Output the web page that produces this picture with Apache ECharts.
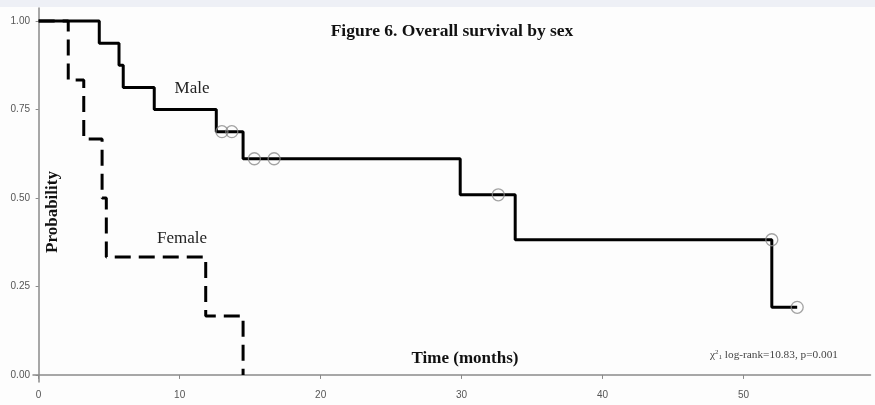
<!DOCTYPE html>
<html>
<head>
<meta charset="utf-8">
<script src="https://cdn.jsdelivr.net/npm/echarts@6/dist/echarts.min.js"></script>
<style>
html,body{margin:0;padding:0;background:#fdfdfd;}
#chart{width:875px;height:405px;}
</style>
</head>
<body>
<div id="chart"></div>
<script>
// Kaplan-Meier step points [time (months), survival probability]
const maleSteps = [[0,1],[4.3,0.9375],[5.7,0.875],[6.0,0.8125],[8.2,0.75],[12.6,0.6875],[14.5,0.611],[29.9,0.509],[33.8,0.382],[52.0,0.191],[53.8,0.191]];
const maleCensored = [[13.0,0.6875],[13.7,0.6875],[15.3,0.611],[16.7,0.611],[32.6,0.509],[52.0,0.382],[53.8,0.191]];
const femaleSteps = [[0,1],[2.1,0.8333],[3.2,0.6667],[4.5,0.5],[4.8,0.3333],[11.85,0.1667],[14.5,0]];
const xTicks = [0,10,20,30,40,50];
const yTicks = [0,0.25,0.5,0.75,1];

const chart = echarts.init(document.getElementById('chart'));
const serif = '"Liberation Serif","DejaVu Serif",serif';
chart.setOption({
  backgroundColor:'#fdfdfd',
  animation:false,
  grid:{left:33,right:4.5,top:8,bottom:23,containLabel:false},
  xAxis:{
    type:'value',min:-0.4,max:59,
    axisLine:{show:true,lineStyle:{color:'#8a8a8a',width:1.5}},
    axisTick:{show:true,customValues:xTicks,length:4,lineStyle:{color:'#8a8a8a'}},
    axisLabel:{customValues:xTicks,color:'#555',fontSize:10,fontFamily:'"Liberation Sans",Arial,sans-serif',margin:8},
    splitLine:{show:false}
  },
  yAxis:{
    type:'value',min:-0.02,max:1.037,
    axisLine:{show:true,lineStyle:{color:'#8a8a8a',width:1.5}},
    axisTick:{show:true,customValues:yTicks,length:3,lineStyle:{color:'#8a8a8a'}},
    axisLabel:{customValues:yTicks,color:'#555',fontSize:10,fontFamily:'"Liberation Sans",Arial,sans-serif',margin:3,
      formatter:v=>v.toFixed(2)},
    splitLine:{show:false}
  },
  series:[
    {type:'line',step:'end',data:femaleSteps,symbol:'none',
     lineStyle:{color:'#000',width:3,type:[16,8]}},
    {type:'line',step:'end',data:maleSteps,symbol:'none',
     lineStyle:{color:'#000',width:3}},
    {type:'scatter',data:maleCensored,symbol:'circle',symbolSize:12,
     itemStyle:{color:'rgba(0,0,0,0)',borderColor:'#8c8c8c',borderWidth:1.3},z:5}
  ],
  graphic:[
    {type:'rect',shape:{x:0,y:0,width:875,height:7},style:{fill:'#eef0f6'},silent:true},
    {type:'text',x:452,y:31,style:{text:'Figure 6. Overall survival by sex',font:'bold 17.5px '+serif,fill:'#111',textAlign:'center',textVerticalAlign:'middle'}},
    {type:'text',x:192,y:89,style:{text:'Male',font:'17px '+serif,fill:'#222',textAlign:'center',textVerticalAlign:'middle'}},
    {type:'text',x:182,y:239,style:{text:'Female',font:'17px '+serif,fill:'#222',textAlign:'center',textVerticalAlign:'middle'}},
    {type:'text',x:465,y:359,style:{text:'Time (months)',font:'bold 17px '+serif,fill:'#111',textAlign:'center',textVerticalAlign:'middle'}},
    {type:'text',x:53,y:212,rotation:Math.PI/2,style:{text:'Probability',font:'bold 17px '+serif,fill:'#111',textAlign:'center',textVerticalAlign:'middle'}},
    {type:'text',x:710,y:355,style:{
      text:'χ{sup|2}{sub|1} log-rank=10.83, p=0.001',
      font:'11.3px '+serif,fill:'#444',textVerticalAlign:'middle',
      rich:{sup:{fontSize:7,fontFamily:serif,fill:'#444',verticalAlign:'top',padding:[0,0,5,0]},sub:{fontSize:7,fontFamily:serif,fill:'#444',verticalAlign:'bottom',padding:[4,0,0,0]}}
    }}
  ]
});
</script>
</body>
</html>
